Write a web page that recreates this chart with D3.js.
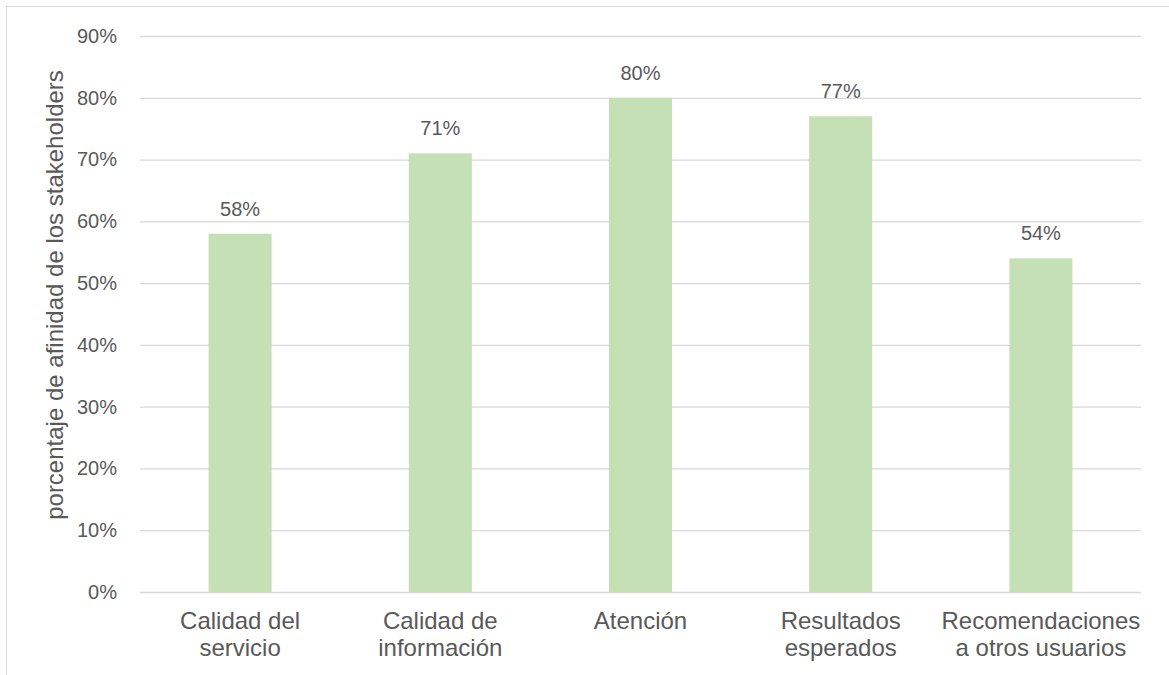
<!DOCTYPE html>
<html><head><meta charset="utf-8">
<script src="https://cdn.jsdelivr.net/npm/d3@7"></script>
<style>body{margin:0;background:#fff;}svg{display:block;}</style>
</head><body>
<script>
const categories = [["Calidad del","servicio"],["Calidad de","información"],["Atención"],["Resultados","esperados"],["Recomendaciones","a otros usuarios"]];
const values = [0.58, 0.71, 0.80, 0.77, 0.54];
const yTicks = [0,0.1,0.2,0.3,0.4,0.5,0.6,0.7,0.8,0.9];
const yTitle = "porcentaje de afinidad de los stakeholders";

(function(){
const W = 1169, H = 675;
const svg = d3.select("body").append("svg").attr("width", W).attr("height", H);
svg.append("rect").attr("x",6.5).attr("y",6.5).attr("width",W).attr("height",H)
  .attr("fill","#fff").attr("stroke","#d9d9d9").attr("stroke-width",1);

const mL = 140, mR = 1141, mT = 36, mB = 592;
const x = d3.scaleBand().domain(d3.range(categories.length)).range([mL, mR]).paddingInner(0.685).paddingOuter(0.3425);
const y = d3.scaleLinear().domain([0, 0.9]).range([mB, mT]);
const font = "'Liberation Sans', Arial, sans-serif";
const txt = "#595959";

const yAxis = d3.axisLeft(y).tickValues(yTicks).tickFormat(d3.format(".0%")).tickSize(-(mR-mL)).tickPadding(23);
const gy = svg.append("g").attr("transform", `translate(${mL},0)`).call(yAxis);
gy.select(".domain").remove();
gy.selectAll("line").attr("stroke","#d9d9d9").attr("stroke-width",1.3);
gy.selectAll("text").attr("fill",txt).attr("font-family",font).attr("font-size",20);

svg.append("g").selectAll("rect").data(values).join("rect")
  .attr("x",(d,i)=>x(i)).attr("width",x.bandwidth())
  .attr("y",d=>y(d)).attr("height",d=>y(0)-y(d)).attr("fill","#c5e0b4");

svg.append("g").selectAll("text").data(values).join("text")
  .attr("x",(d,i)=>x(i)+x.bandwidth()/2).attr("y",d=>y(d)-18)
  .attr("text-anchor","middle").attr("fill",txt).attr("font-family",font).attr("font-size",20)
  .text(d=>d3.format(".0%")(d));

const gx = svg.append("g");
categories.forEach((lines,i)=>{
  const t = gx.append("text").attr("text-anchor","middle").attr("fill",txt)
    .attr("font-family",font).attr("font-size",24);
  lines.forEach((l,j)=>{
    t.append("tspan").attr("x", x(i)+x.bandwidth()/2).attr("y", 629 + j*27).text(l);
  });
});

svg.append("text").attr("transform",`translate(63,295) rotate(-90)`)
  .attr("text-anchor","middle").attr("fill",txt).attr("font-family",font).attr("font-size",24)
  .text(yTitle);
})();
</script>
</body></html>
